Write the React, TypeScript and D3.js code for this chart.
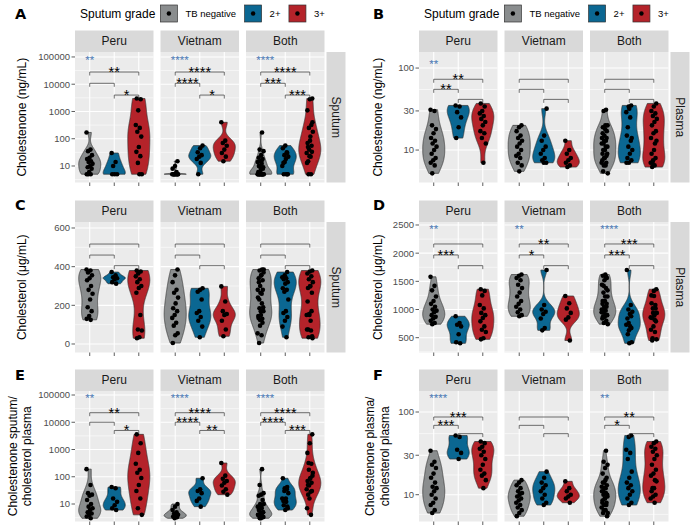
import React, { useRef, useEffect } from "react";
import * as d3 from "d3";

const W = 700;
const H = 532;
const FONT = "'Liberation Sans', Arial, Helvetica, sans-serif";

const SITES = ["Peru", "Vietnam", "Both"];
const GRADES = ["TB negative", "2+", "3+"];
const GRADE_COLORS = ["#8A8D8E", "#0B6792", "#B4232A"];
const KW_COLOR = "#4A78B5";

/* A: cholestenone sputum (ng/mL) */
const A_PERU_NEG = [170, 40, 35, 25, 20, 18, 15, 14, 12, 10, 9, 8, 6, 5, 5, 5];
const A_PERU_2 = [30, 14, 10, 5, 5, 5];
const A_PERU_3 = [3000, 2800, 1100, 320, 250, 180, 120, 50, 33, 23, 13, 5, 5];
const A_VN_NEG = [15, 10, 8, 6, 5, 5, 5, 5, 5, 5, 5, 5, 5, 5];
const A_VN_2 = [56, 45, 32, 25, 22, 18, 13, 5];
const A_VN_3 = [400, 85, 70, 55, 40, 30, 22, 15];
const A_TICKS = [10, 100, 1000, 10000, 100000];
const A_BRACKETS = [28000, 10800, 4000];
const A_SIG = [["**", "", "*"], ["****", "****", "*"], ["****", "***", "***"]];
const A_KW = ["**", "****", "****"];

/* B: cholestenone plasma (ng/mL) */
const B_PERU_NEG = [31, 30, 20, 18, 16, 14, 13, 12, 11, 10, 9, 8, 7.5, 7, 6.5, 5.2];
const B_PERU_2 = [35, 34, 29, 25, 19, 14];
const B_PERU_3 = [37, 34, 30, 28, 26, 24, 22, 20, 17, 16, 14, 12, 7];
const B_VN_NEG = [20, 19, 17, 15, 14, 13, 12, 11, 10, 9, 8.5, 8, 7, 6.5, 5.5];
const B_VN_2 = [32, 15, 13, 11, 10, 9, 8, 7.5, 7, 7];
const B_VN_3 = [13, 10, 9, 8, 7.5, 7, 6.5, 6.2];
const B_TICKS = [10, 30, 100];
const B_BRACKETS = [73, 55, 41.5];
const B_SIG = [["**", "**", ""], ["", "", ""], ["", "", ""]];
const B_KW = ["**", "", ""];

/* C: cholesterol sputum (µg/mL) */
const C_PERU_NEG = [385, 380, 370, 355, 340, 330, 300, 280, 260, 230, 190, 170, 145, 130, 125];
const C_PERU_2 = [372, 355, 345, 340, 335, 320, 312];
const C_PERU_3 = [380, 375, 365, 350, 335, 320, 300, 290, 265, 150, 75, 70, 35, 30];
const C_VN_NEG = [385, 355, 320, 280, 265, 240, 210, 185, 170, 150, 135, 110, 95, 55, 45, 5];
const C_VN_2 = [288, 280, 270, 230, 170, 160, 140, 120, 90, 35];
const C_VN_3 = [298, 220, 170, 155, 150, 120, 75, 40];
const C_TICKS = [0, 200, 400, 600];
const C_BRACKETS = [517, 460, 405];
const C_SIG = [["", "", ""], ["", "", ""], ["", "", ""]];
const C_KW = ["", "", ""];

/* D: cholesterol plasma (µg/mL) */
const D_PERU_NEG = [1580, 1420, 1340, 1230, 1150, 1100, 1050, 1000, 980, 950, 900, 870, 840, 800, 760, 740];
const D_PERU_2 = [880, 760, 730, 700, 560, 420, 400];
const D_PERU_3 = [1360, 1330, 1250, 1080, 1020, 940, 900, 850, 790, 700, 640, 600, 490, 470];
const D_VN_NEG = [1620, 1600, 1560, 1520, 1440, 1380, 1300, 1230, 1150, 1100, 1050, 1000, 950, 900, 880];
const D_VN_2 = [1700, 1080, 1000, 960, 920, 840, 670, 630];
const D_VN_3 = [1240, 1110, 1020, 940, 860, 820, 450];
const D_TICKS = [500, 1000, 1500, 2000, 2500];
const D_BRACKETS = [2163, 1968, 1778];
const D_SIG = [["", "***", ""], ["**", "*", ""], ["***", "***", ""]];
const D_KW = ["**", "**", "****"];

/* E: cholestenone sputum / cholesterol plasma */
const E_PERU_NEG = [190, 50, 25, 22, 20, 14, 10, 8, 7, 6, 5, 4.5, 4, 3.5, 3];
const E_PERU_2 = [42, 38, 16, 12, 9, 7, 6];
const E_PERU_3 = [3600, 1700, 750, 300, 180, 140, 90, 50, 30, 16, 7, 4];
const E_VN_NEG = [10, 8, 6, 5, 4.5, 4, 3.8, 3.5, 3.3, 3];
const E_VN_2 = [88, 35, 30, 25, 16, 13, 8];
const E_VN_3 = [320, 110, 85, 70, 60, 48, 35, 28, 22];
const E_TICKS = [10, 100, 1000, 10000, 100000];
const E_BRACKETS = [22400, 10000, 5000];
const E_SIG = [["**", "", "*"], ["****", "****", "**"], ["****", "****", "***"]];
const E_KW = ["**", "****", "****"];

/* F: cholestenone plasma / cholesterol plasma */
const F_PERU_NEG = [34, 25, 23, 21, 18, 16, 14, 12.5, 12, 11, 10, 9, 8, 7.5, 6.5, 6];
const F_PERU_2 = [52, 50, 35, 32, 27];
const F_PERU_3 = [44, 42, 38, 36, 33, 30, 27, 23, 20, 18, 17, 15, 12];
const F_VN_NEG = [15, 14, 13, 12, 11, 10.5, 10, 9.5, 9, 8.5, 8, 7.5, 7, 6.5, 6, 5.5];
const F_VN_2 = [19, 16, 14, 13, 12, 11, 10, 9, 8, 7.5];
const F_VN_3 = [14.5, 12, 11, 10, 9.5, 9, 8];
const F_TICKS = [10, 30, 100];
const F_BRACKETS = [87, 69, 54.7];
const F_SIG = [["***", "***", ""], ["", "", ""], ["**", "*", ""]];
const F_KW = ["****", "", "**"];

type Panel = {
  letter: string;
  row: number;
  col: number;
  title: string[];
  titleX: number;
  strip: string;
  log: boolean;
  limits: [number, number];
  ticks: number[];
  peru: number[][];
  vietnam: number[][];
  brackets: number[];
  sig: string[][];
  kw: string[];
  kwY: number;
  legend: boolean;
};

const PANELS: Panel[] = [
  { letter: "A", row: 0, col: 0, title: ["Cholestenone (ng/mL)"], titleX: 22, strip: "Sputum", log: true,
    limits: [2.48, 152000], ticks: A_TICKS, peru: [A_PERU_NEG, A_PERU_2, A_PERU_3], vietnam: [A_VN_NEG, A_VN_2, A_VN_3],
    brackets: A_BRACKETS, sig: A_SIG, kw: A_KW, kwY: 100000, legend: true },
  { letter: "B", row: 0, col: 1, title: ["Cholestenone (ng/mL)"], titleX: 378, strip: "Plasma", log: true,
    limits: [4.02, 157], ticks: B_TICKS, peru: [B_PERU_NEG, B_PERU_2, B_PERU_3], vietnam: [B_VN_NEG, B_VN_2, B_VN_3],
    brackets: B_BRACKETS, sig: B_SIG, kw: B_KW, kwY: 120, legend: true },
  { letter: "C", row: 1, col: 0, title: ["Cholesterol (μg/mL)"], titleX: 22, strip: "Sputum", log: false,
    limits: [-44, 631], ticks: C_TICKS, peru: [C_PERU_NEG, C_PERU_2, C_PERU_3], vietnam: [C_VN_NEG, C_VN_2, C_VN_3],
    brackets: C_BRACKETS, sig: C_SIG, kw: C_KW, kwY: 600, legend: false },
  { letter: "D", row: 1, col: 1, title: ["Cholesterol (μg/mL)"], titleX: 378, strip: "Plasma", log: false,
    limits: [237, 2553], ticks: D_TICKS, peru: [D_PERU_NEG, D_PERU_2, D_PERU_3], vietnam: [D_VN_NEG, D_VN_2, D_VN_3],
    brackets: D_BRACKETS, sig: D_SIG, kw: D_KW, kwY: 2480, legend: false },
  { letter: "E", row: 2, col: 0, title: ["Cholestenone sputum/", "cholesterol plasma"], titleX: 19.75, strip: "", log: true,
    limits: [2.28, 140300], ticks: E_TICKS, peru: [E_PERU_NEG, E_PERU_2, E_PERU_3], vietnam: [E_VN_NEG, E_VN_2, E_VN_3],
    brackets: E_BRACKETS, sig: E_SIG, kw: E_KW, kwY: 100000, legend: false },
  { letter: "F", row: 2, col: 1, title: ["Cholestenone plasma/", "cholesterol plasma"], titleX: 377.5, strip: "", log: true,
    limits: [4.74, 179.5], ticks: F_TICKS, peru: [F_PERU_NEG, F_PERU_2, F_PERU_3], vietnam: [F_VN_NEG, F_VN_2, F_VN_3],
    brackets: F_BRACKETS, sig: F_SIG, kw: F_KW, kwY: 160, legend: false },
];

const ROWS = [
  { letterY: 19, top: 52, bottom: 182.5 },
  { letterY: 210, top: 222, bottom: 352.5 },
  { letterY: 380, top: 391, bottom: 521.5 },
];
const COLS = [
  { x0: 75, letterX: 15 },
  { x0: 419, letterX: 373 },
];
const FACET_W = 78.5;
const FACET_GAP = 7;
const STRIP_H = 21.5;

function nrd0(x: number[]) {
  const s = x.slice().sort(d3.ascending);
  const hi = d3.deviation(x) ?? 0;
  const iqr = (d3.quantileSorted(s, 0.75) ?? 0) - (d3.quantileSorted(s, 0.25) ?? 0);
  let lo = Math.min(hi, iqr / 1.34);
  if (!lo) lo = hi || Math.abs(x[0]) || 1;
  return 0.9 * lo * Math.pow(x.length, -0.2);
}

// trimmed gaussian density, scaled to max 1 (ggplot scale = "width")
function violin(t: number[]) {
  const bw = nrd0(t);
  const [mn, mx] = d3.extent(t) as [number, number];
  const pts = d3.range(256).map((i) => {
    const v = mn + ((mx - mn) * i) / 255;
    let s = 0;
    for (const ti of t) {
      const z = (v - ti) / bw;
      s += Math.exp(-0.5 * z * z);
    }
    return { v, d: s };
  });
  const m = d3.max(pts, (p) => p.d) || 1;
  return pts.map((p) => ({ v: p.v, w: p.d / m }));
}

function minorBreaks(b: number[], lim: [number, number]) {
  const n = b.length;
  const ext = [b[0] - (b[1] - b[0]), ...b, b[n - 1] + (b[n - 1] - b[n - 2])];
  const out: number[] = [];
  for (let i = 0; i < ext.length - 1; i++) {
    const m = (ext[i] + ext[i + 1]) / 2;
    if (m >= lim[0] && m <= lim[1]) out.push(m);
  }
  return out;
}

const jit = (i: number) => (((i * 0.6180339) % 1) - 0.5) * 0.26;

function drawPanel(svg: d3.Selection<SVGSVGElement, unknown, null, undefined>, p: Panel) {
  const row = ROWS[p.row];
  const col = COLS[p.col];
  const tf = p.log ? (v: number) => Math.log10(v) : (v: number) => v;
  const tLim: [number, number] = [tf(p.limits[0]), tf(p.limits[1])];
  const y = d3.scaleLinear().domain(tLim).range([row.bottom, row.top]);
  const tTicks = p.ticks.map(tf);
  const tMinor = minorBreaks(tTicks, tLim);
  const g = svg.append("g");

  SITES.forEach((site, fi) => {
    const fx0 = col.x0 + fi * (FACET_W + FACET_GAP);
    const x = d3.scaleLinear().domain([0.4, 3.6]).range([fx0, fx0 + FACET_W]);
    const unit = x(2) - x(1);
    const fg = g.append("g");

    fg.append("rect").attr("x", fx0).attr("y", row.top).attr("width", FACET_W)
      .attr("height", row.bottom - row.top).attr("fill", "#EBEBEB");
    fg.selectAll(".minor").data(tMinor).join("line")
      .attr("x1", fx0).attr("x2", fx0 + FACET_W).attr("y1", (d) => y(d)).attr("y2", (d) => y(d))
      .attr("stroke", "#fff").attr("stroke-width", 0.55);
    fg.selectAll(".major").data(tTicks).join("line")
      .attr("x1", fx0).attr("x2", fx0 + FACET_W).attr("y1", (d) => y(d)).attr("y2", (d) => y(d))
      .attr("stroke", "#fff").attr("stroke-width", 1.1);
    fg.selectAll(".vgrid").data([1, 2, 3]).join("line")
      .attr("x1", (d) => x(d)).attr("x2", (d) => x(d)).attr("y1", row.top).attr("y2", row.bottom)
      .attr("stroke", "#fff").attr("stroke-width", 1.1);

    // strip
    fg.append("rect").attr("x", fx0).attr("y", row.top - STRIP_H).attr("width", FACET_W)
      .attr("height", STRIP_H).attr("fill", "#D9D9D9");
    fg.append("text").attr("x", fx0 + FACET_W / 2).attr("y", row.top - STRIP_H / 2 + 4.2)
      .attr("text-anchor", "middle").attr("font-size", 12).attr("fill", "#1A1A1A").text(site);

    // violins + points
    GRADES.forEach((_, gi) => {
      const vals = fi === 0 ? p.peru[gi] : fi === 1 ? p.vietnam[gi] : p.peru[gi].concat(p.vietnam[gi]);
      const t = vals.map(tf);
      const cx = x(gi + 1);
      const hw = 0.45 * unit;
      const shape = violin(t);
      const area = d3.area<{ v: number; w: number }>()
        .y((d) => y(d.v)).x0((d) => cx - d.w * hw).x1((d) => cx + d.w * hw);
      fg.append("path").attr("d", area(shape)).attr("fill", GRADE_COLORS[gi])
        .attr("stroke", "#333").attr("stroke-width", 0.7);
      fg.append("g").selectAll("circle").data(t).join("circle")
        .attr("cx", (d, i) => cx + jit(i + gi * 5 + fi * 3) * unit).attr("cy", (d) => y(d))
        .attr("r", 2.3).attr("fill", "#000");
    });

    // significance brackets: pairs 1-3, 1-2, 2-3
    const pairs = [[1, 3], [1, 2], [2, 3]];
    pairs.forEach(([a, b], k) => {
      const yb = y(tf(p.brackets[k]));
      const x1 = x(a), x2 = x(b);
      fg.append("path").attr("d", `M${x1},${yb + 3.5}V${yb}H${x2}V${yb + 3.5}`)
        .attr("fill", "none").attr("stroke", "#333").attr("stroke-width", 0.7);
      const lab = p.sig[fi][k];
      if (lab) {
        fg.append("text").attr("x", (x1 + x2) / 2).attr("y", yb + 4.8).attr("text-anchor", "middle")
          .attr("font-size", 14.5).attr("fill", "#000").text(lab);
      }
    });
    if (p.kw[fi]) {
      fg.append("text").attr("x", x(0.82)).attr("y", y(tf(p.kwY)) + 6.6)
        .attr("font-size", 11.5).attr("fill", KW_COLOR).text(p.kw[fi]);
    }

    // x ticks (no labels)
    fg.selectAll(".xt").data([1, 2, 3]).join("line")
      .attr("x1", (d) => x(d)).attr("x2", (d) => x(d)).attr("y1", row.bottom).attr("y2", row.bottom + 3.5)
      .attr("stroke", "#333").attr("stroke-width", 0.8);
  });

  // y axis
  const ya = g.append("g");
  ya.selectAll("line").data(tTicks).join("line")
    .attr("x1", col.x0 - 3.5).attr("x2", col.x0).attr("y1", (d) => y(d)).attr("y2", (d) => y(d))
    .attr("stroke", "#333").attr("stroke-width", 0.8);
  ya.selectAll("text").data(p.ticks).join("text")
    .attr("x", col.x0 - 5).attr("y", (d) => y(tf(d)) + 3.4).attr("text-anchor", "end")
    .attr("font-size", 9.5).attr("fill", "#4D4D4D").text((d) => String(d));

  // right strip
  const lastEnd = col.x0 + 2 * (FACET_W + FACET_GAP) + FACET_W;
  if (p.strip) {
    g.append("rect").attr("x", lastEnd + 2).attr("y", row.top).attr("width", 19)
      .attr("height", row.bottom - row.top).attr("fill", "#D9D9D9");
    const cy = (row.top + row.bottom) / 2;
    g.append("text").attr("transform", `translate(${lastEnd + 2 + 9.5},${cy}) rotate(90)`)
      .attr("text-anchor", "middle").attr("dy", "0.35em").attr("font-size", 12).attr("fill", "#1A1A1A")
      .text(p.strip);
  }

  // y title
  const cy = (row.top + row.bottom) / 2;
  p.title.forEach((line, i) => {
    const lx = p.titleX + (i - (p.title.length - 1) / 2) * 14.5;
    g.append("text").attr("transform", `translate(${lx},${cy}) rotate(-90)`)
      .attr("text-anchor", "middle").attr("dy", "0.35em").attr("font-size", 12).attr("fill", "#000")
      .text(line);
  });

  // panel letter
  g.append("text").attr("x", col.letterX).attr("y", row.letterY).attr("font-size", 14.5)
    .attr("font-family", "'DejaVu Sans', sans-serif")
    .attr("font-weight", "bold").attr("fill", "#000").text(p.letter);

  // legend
  if (p.legend) {
    const lg = g.append("g");
    let lx = col.x0 + 5;
    const title = lg.append("text").attr("x", lx).attr("y", 18).attr("font-size", 12)
      .attr("fill", "#000").text("Sputum grade");
    lx += (title.node() as SVGTextElement).getComputedTextLength() + 5;
    GRADES.forEach((gr, gi) => {
      lg.append("rect").attr("x", lx).attr("y", 5).attr("width", 17).attr("height", 17)
        .attr("fill", GRADE_COLORS[gi]).attr("stroke", "#333").attr("stroke-width", 0.7);
      lg.append("circle").attr("cx", lx + 8.5).attr("cy", 13.5).attr("r", 2.2).attr("fill", "#000");
      lx += 17 + 8;
      const t = lg.append("text").attr("x", lx).attr("y", 17).attr("font-size", 9.5)
        .attr("fill", "#000").text(gr);
      lx += (t.node() as SVGTextElement).getComputedTextLength() + 8.5;
    });
  }
}

const App: React.FC = () => {
  const svgRef = useRef<SVGSVGElement | null>(null);

  useEffect(() => {
    if (!svgRef.current) return;
    const svg = d3.select(svgRef.current);
    svg.selectAll("*").remove();
    svg.append("rect").attr("width", W).attr("height", H).attr("fill", "#fff");
    PANELS.forEach((p) => drawPanel(svg, p));
  }, []);

  return (
    <svg
      ref={svgRef}
      width={W}
      height={H}
      style={{ position: "absolute", left: 0, top: 0, fontFamily: FONT }}
    />
  );
};

export default App;
